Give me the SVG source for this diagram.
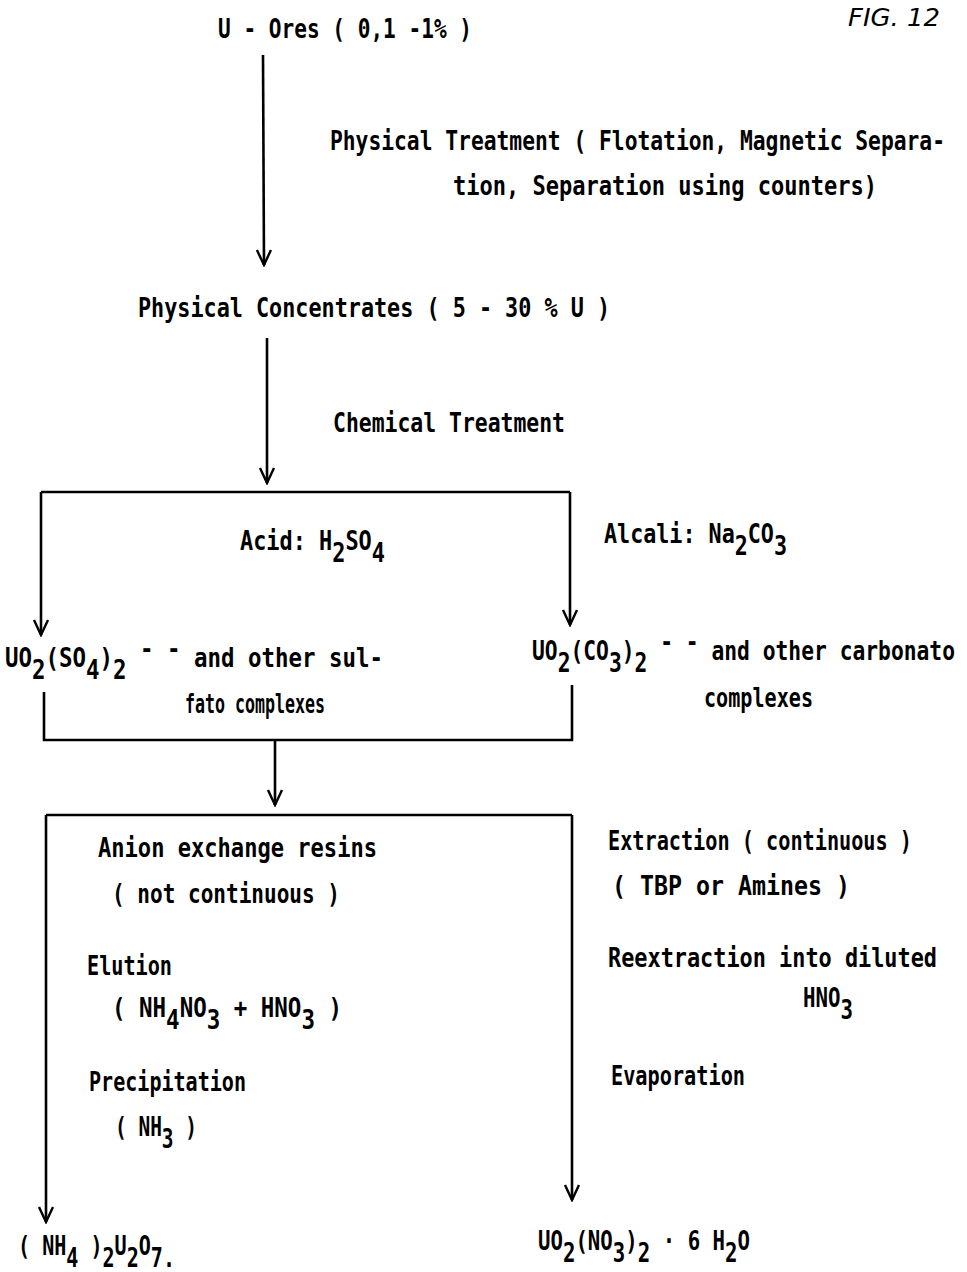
<svg xmlns="http://www.w3.org/2000/svg" width="967" height="1272" viewBox="0 0 967 1272">
<style>
text{font-family:"DejaVu Sans Mono","Liberation Mono",monospace;font-weight:bold;font-size:27px;fill:#000}
.fig{font-family:"DejaVu Sans","Liberation Sans",sans-serif;font-style:italic;font-weight:normal;font-size:24px}
.ln{stroke:#000;stroke-width:2.6;fill:none}
</style>
<defs>
<marker id="ah" markerUnits="userSpaceOnUse" markerWidth="20" markerHeight="20" viewBox="-18 -10 20 20" refX="0" refY="0" orient="auto">
<path d="M-15,-7 L0,0 L-15,7" fill="none" stroke="#000" stroke-width="2.4"/>
</marker>
</defs>
<g id="connectors">
<line class="ln" x1="263" y1="55" x2="264" y2="265" marker-end="url(#ah)"/>
<line class="ln" x1="267" y1="338" x2="267" y2="483" marker-end="url(#ah)"/>
<path class="ln" d="M41,492 L570,492"/>
<line class="ln" x1="41" y1="492" x2="41" y2="635" marker-end="url(#ah)"/>
<line class="ln" x1="570" y1="492" x2="570" y2="625" marker-end="url(#ah)"/>
<path class="ln" d="M44,692 L44,740 L572,740 L572,685"/>
<line class="ln" x1="275" y1="740" x2="275" y2="805" marker-end="url(#ah)"/>
<path class="ln" d="M46,815 L572,815"/>
<line class="ln" x1="46" y1="815" x2="46" y2="1222" marker-end="url(#ah)"/>
<line class="ln" x1="572" y1="815" x2="572" y2="1200" marker-end="url(#ah)"/>
</g>
<g id="title"><text class="fig" x="848" y="26" textLength="92" lengthAdjust="spacingAndGlyphs">FIG. 12</text></g>
<g id="ores"><text x="218" y="38" textLength="254" lengthAdjust="spacingAndGlyphs">U - Ores  ( 0,1 -1% )</text></g>
<g id="physical-treatment">
<text x="330" y="150" textLength="615" lengthAdjust="spacingAndGlyphs">Physical  Treatment ( Flotation,  Magnetic  Separa-</text>
<text x="453" y="195" textLength="424" lengthAdjust="spacingAndGlyphs">tion,  Separation  using  counters)</text>
</g>
<g id="concentrates"><text x="138" y="317" textLength="472" lengthAdjust="spacingAndGlyphs">Physical  Concentrates  (  5 - 30 % U )</text></g>
<g id="chemical-treatment"><text x="333" y="432" textLength="232" lengthAdjust="spacingAndGlyphs">Chemical  Treatment</text></g>
<g id="acid"><text x="240" y="550" textLength="145" lengthAdjust="spacingAndGlyphs">Acid:  H<tspan dy="12">2</tspan><tspan dy="-12">SO</tspan><tspan dy="12">4</tspan></text></g>
<g id="alcali"><text x="604" y="543" textLength="183" lengthAdjust="spacingAndGlyphs">Alcali:  Na<tspan dy="12">2</tspan><tspan dy="-12">CO</tspan><tspan dy="12">3</tspan></text></g>
<g id="sulfato">
<text x="5" y="667" textLength="378" lengthAdjust="spacingAndGlyphs">UO<tspan dy="12">2</tspan><tspan dy="-12">(SO</tspan><tspan dy="12">4</tspan><tspan dy="-12">)</tspan><tspan dy="12">2</tspan><tspan dy="-21"> - -</tspan><tspan dy="9"> and  other  sul-</tspan></text>
<text x="185" y="713" textLength="140" lengthAdjust="spacingAndGlyphs">fato  complexes</text>
</g>
<g id="carbonato">
<text x="532" y="660" textLength="423" lengthAdjust="spacingAndGlyphs">UO<tspan dy="12">2</tspan><tspan dy="-12">(CO</tspan><tspan dy="12">3</tspan><tspan dy="-12">)</tspan><tspan dy="12">2</tspan><tspan dy="-21"> - -</tspan><tspan dy="9"> and  other  carbonato</tspan></text>
<text x="704" y="707" textLength="109" lengthAdjust="spacingAndGlyphs">complexes</text>
</g>
<g id="anion">
<text x="98" y="857" textLength="279" lengthAdjust="spacingAndGlyphs">Anion  exchange  resins</text>
<text x="112" y="903" textLength="228" lengthAdjust="spacingAndGlyphs">( not  continuous )</text>
<text x="87" y="975" textLength="85" lengthAdjust="spacingAndGlyphs">Elution</text>
<text x="112" y="1017" textLength="230" lengthAdjust="spacingAndGlyphs">( NH<tspan dy="12">4</tspan><tspan dy="-12">NO</tspan><tspan dy="12">3</tspan><tspan dy="-12">  +  HNO</tspan><tspan dy="12">3</tspan><tspan dy="-12"> )</tspan></text>
<text x="89" y="1091" textLength="157" lengthAdjust="spacingAndGlyphs">Precipitation</text>
<text x="115" y="1136" textLength="82" lengthAdjust="spacingAndGlyphs">( NH<tspan dy="12">3</tspan><tspan dy="-12"> )</tspan></text>
</g>
<g id="extraction">
<text x="608" y="850" textLength="304" lengthAdjust="spacingAndGlyphs">Extraction ( continuous )</text>
<text x="612" y="895" textLength="238" lengthAdjust="spacingAndGlyphs">( TBP  or  Amines )</text>
<text x="608" y="967" textLength="329" lengthAdjust="spacingAndGlyphs">Reextraction  into  diluted</text>
<text x="803" y="1007" textLength="50" lengthAdjust="spacingAndGlyphs">HNO<tspan dy="12">3</tspan></text>
<text x="611" y="1085" textLength="134" lengthAdjust="spacingAndGlyphs">Evaporation</text>
</g>
<g id="adu"><text x="18" y="1255" textLength="157" lengthAdjust="spacingAndGlyphs">( NH<tspan dy="12">4</tspan><tspan dy="-12"> )</tspan><tspan dy="12">2</tspan><tspan dy="-12">U</tspan><tspan dy="12">2</tspan><tspan dy="-12">O</tspan><tspan dy="12">7.</tspan></text></g>
<g id="uranyl-nitrate"><text x="538" y="1250" textLength="212" lengthAdjust="spacingAndGlyphs">UO<tspan dy="12">2</tspan><tspan dy="-12">(NO</tspan><tspan dy="12">3</tspan><tspan dy="-12">)</tspan><tspan dy="12">2</tspan><tspan dy="-12"> · 6 H</tspan><tspan dy="12">2</tspan><tspan dy="-12">O</tspan></text></g>
</svg>
